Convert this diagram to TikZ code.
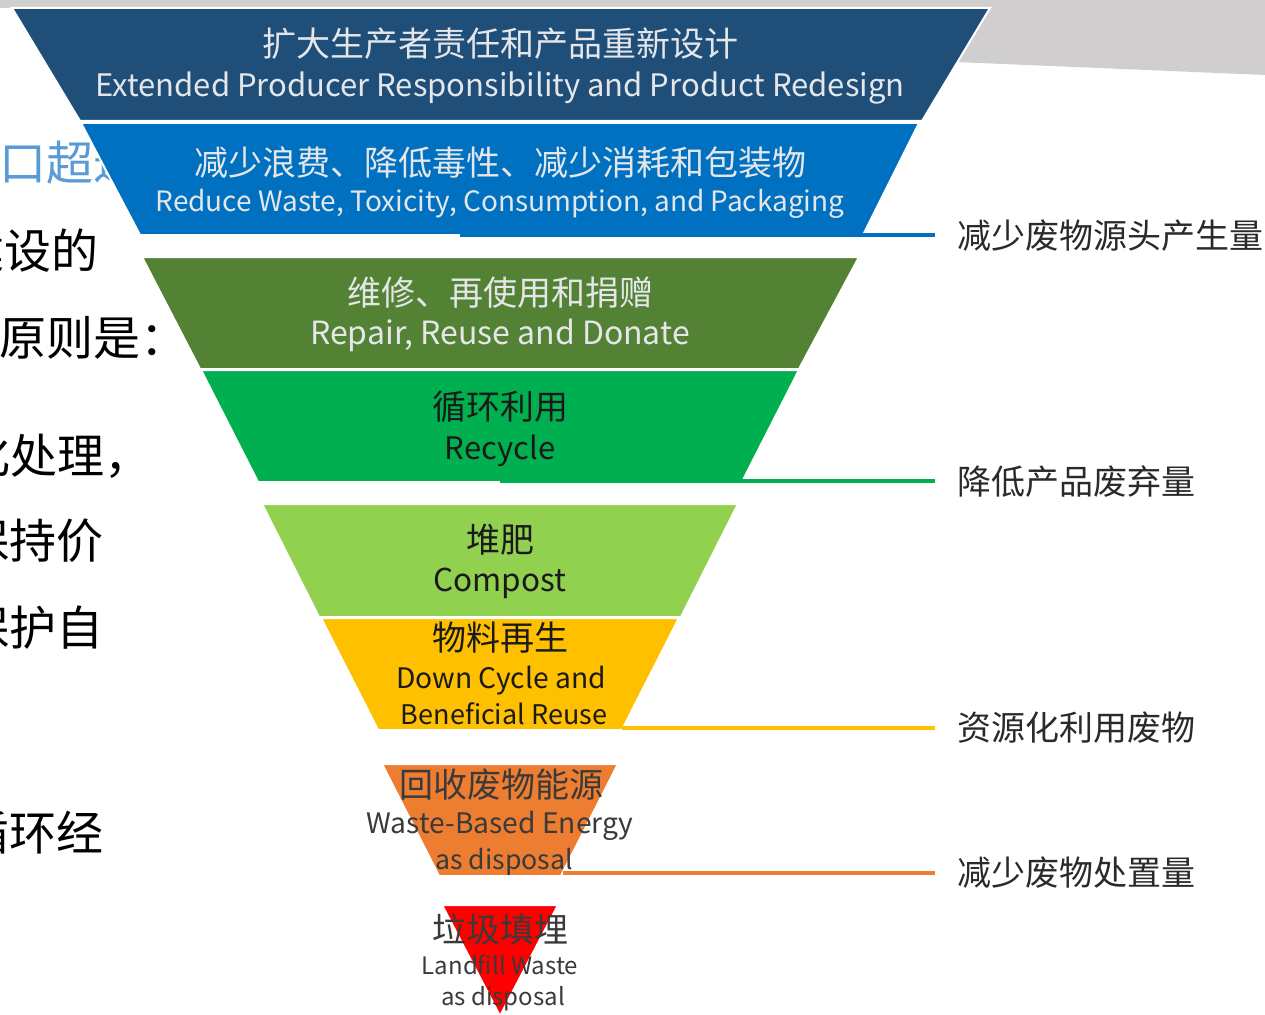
\documentclass[tikz,border=0pt]{standalone}
\usepackage{fontspec}
\setmainfont{Noto Sans CJK SC}
\definecolor{cband}{HTML}{D0CECE}
\definecolor{c1}{HTML}{1F4E79}
\definecolor{c2}{HTML}{0070C0}
\definecolor{c3}{HTML}{548235}
\definecolor{c4}{HTML}{00B050}
\definecolor{c5}{HTML}{92D050}
\definecolor{c6}{HTML}{FFC000}
\definecolor{c7}{HTML}{ED7D31}
\definecolor{c8}{HTML}{FF0000}
\definecolor{tlight}{HTML}{E4E6EA}
\definecolor{tdark}{HTML}{1A1A1A}
\definecolor{tgrey}{HTML}{3A3A3A}
\definecolor{tlabel}{HTML}{2A2A2A}
\definecolor{tblue}{HTML}{5B9BD5}
\newcommand{\fs}[1]{\fontsize{#1}{#1}\selectfont}
\begin{document}
\begin{tikzpicture}[x=1pt,y=-1pt,
  layer/.style={draw=white,line width=2pt,line join=miter},
  txt/.style={anchor=base,inner sep=0pt,outer sep=0pt},
  lefttxt/.style={anchor=base west,inner sep=0pt,font=\fs{47},text=black},
  rlabel/.style={anchor=base west,inner sep=0pt,font=\fs{34},text=tlabel},
  conn/.style={line width=3.5pt}]
\useasboundingbox (0,0) rectangle (1265,1014);
\clip (0,0) rectangle (1265,1014);
\fill[white] (0,0) rectangle (1265,1014);
% grey band of the slide behind
\fill[cband] (0,0) -- (1265,0) -- (1265,75) -- (956,62) -- (990,8) -- (0,8) -- cycle;
% text of the slide behind the funnel (cut at the left edge)
\node[lefttxt,text=tblue] (lt1) at (-1,180) {口超过};
\node[lefttxt] (lt2) at (-43,268) {建设的};
\node[lefttxt] (lt3) at (-1,355) {原则是：};
\node[lefttxt] (lt4) at (-37,473) {化处理，};
\node[lefttxt] (lt5) at (-38,558) {保持价};
\node[lefttxt] (lt6) at (-38,645) {保护自};
\node[lefttxt] (lt7) at (-38,850) {循环经};
% funnel layers
\filldraw[layer,fill=c1] (12,8) -- (990,8) -- (922,121) -- (80,121) -- cycle;
\filldraw[layer,fill=c2] (81,123) -- (919,123) -- (863,235) -- (140,235) -- cycle;
\filldraw[layer,fill=c3] (142,257) -- (859,257) -- (799,369) -- (200,369) -- cycle;
\filldraw[layer,fill=c4] (201,370) -- (799,370) -- (742,482) -- (258,482) -- cycle;
\filldraw[layer,fill=c5] (262,504) -- (738,504) -- (681,617) -- (319,617) -- cycle;
\filldraw[layer,fill=c6] (321,618) -- (679,618) -- (622,730) -- (378,730) -- cycle;
\filldraw[layer,fill=c7] (382,764) -- (618,764) -- (561,876) -- (439,876) -- cycle;
\filldraw[layer,fill=c8] (442,905) -- (558,905) -- (500,1016) -- cycle;
% connector coordinates
\coordinate (s2) at (460,235);
\coordinate (s4) at (500,481);
\coordinate (s6) at (622,728);
\coordinate (s7) at (563,873);
\coordinate (e2) at (935,235);
\coordinate (e4) at (935,481);
\coordinate (e6) at (935,728);
\coordinate (e7) at (935,873);
\draw[conn,c2] (s2) -- (e2);
\draw[conn,c4] (s4) -- (e4);
\draw[conn,c6] (s6) -- (e6);
\draw[conn,c7] (s7) -- (e7);
% right labels
\node[rlabel] (r1) at (957,248) {减少废物源头产生量};
\node[rlabel] (r2) at (957,494) {降低产品废弃量};
\node[rlabel] (r3) at (957,740) {资源化利用废物};
\node[rlabel] (r4) at (957,885) {减少废物处置量};
% layer texts
\node[txt,font=\fs{34},text=tlight] (t1a) at (500,57) {扩大生产者责任和产品重新设计};
\node[txt,font=\fs{31},text=tlight] (t1b) at (500,97) {Extended Producer Responsibility and Product Redesign};
\node[txt,font=\fs{34},text=tlight] (t2a) at (500,175) {减少浪费、降低毒性、减少消耗和包装物};
\node[txt,font=\fs{28},text=tlight] (t2b) at (500,211) {Reduce Waste, Toxicity, Consumption, and Packaging};
\node[txt,font=\fs{34},text=tlight] (t3a) at (500,305) {维修、再使用和捐赠};
\node[txt,font=\fs{32},text=tlight] (t3b) at (500,344) {Repair, Reuse and Donate};
\node[txt,font=\fs{34},text=tdark] (t4a) at (500,419) {循环利用};
\node[txt,font=\fs{31},text=tdark] (t4b) at (500,459) {Recycle};
\node[txt,font=\fs{34},text=tdark] (t5a) at (500,552) {堆肥};
\node[txt,font=\fs{31.5},text=tdark] (t5b) at (500,591) {Compost};
\node[txt,font=\fs{34},text=tdark] (t6a) at (500,650) {物料再生};
\node[txt,font=\fs{28.2},text=tdark] (t6b) at (501,688) {Down Cycle and};
\node[txt,font=\fs{27},text=tdark] (t6c) at (504,724) {Beneficial Reuse};
\node[txt,font=\fs{34},text=tgrey] (t7a) at (501,797) {回收废物能源};
\node[txt,font=\fs{28.2},text=tgrey] (t7b) at (500,833) {Waste-Based Energy};
\node[txt,font=\fs{26.7},text=tgrey] (t7c) at (504,869) {as disposal};
\node[txt,font=\fs{34},text=tgrey] (t8a) at (500,942) {垃圾填埋};
\node[txt,font=\fs{24},text=tgrey] (t8b) at (500,974) {Landfill Waste};
\node[txt,font=\fs{24},text=tgrey] (t8c) at (503,1005) {as disposal};
\end{tikzpicture}
\end{document}
